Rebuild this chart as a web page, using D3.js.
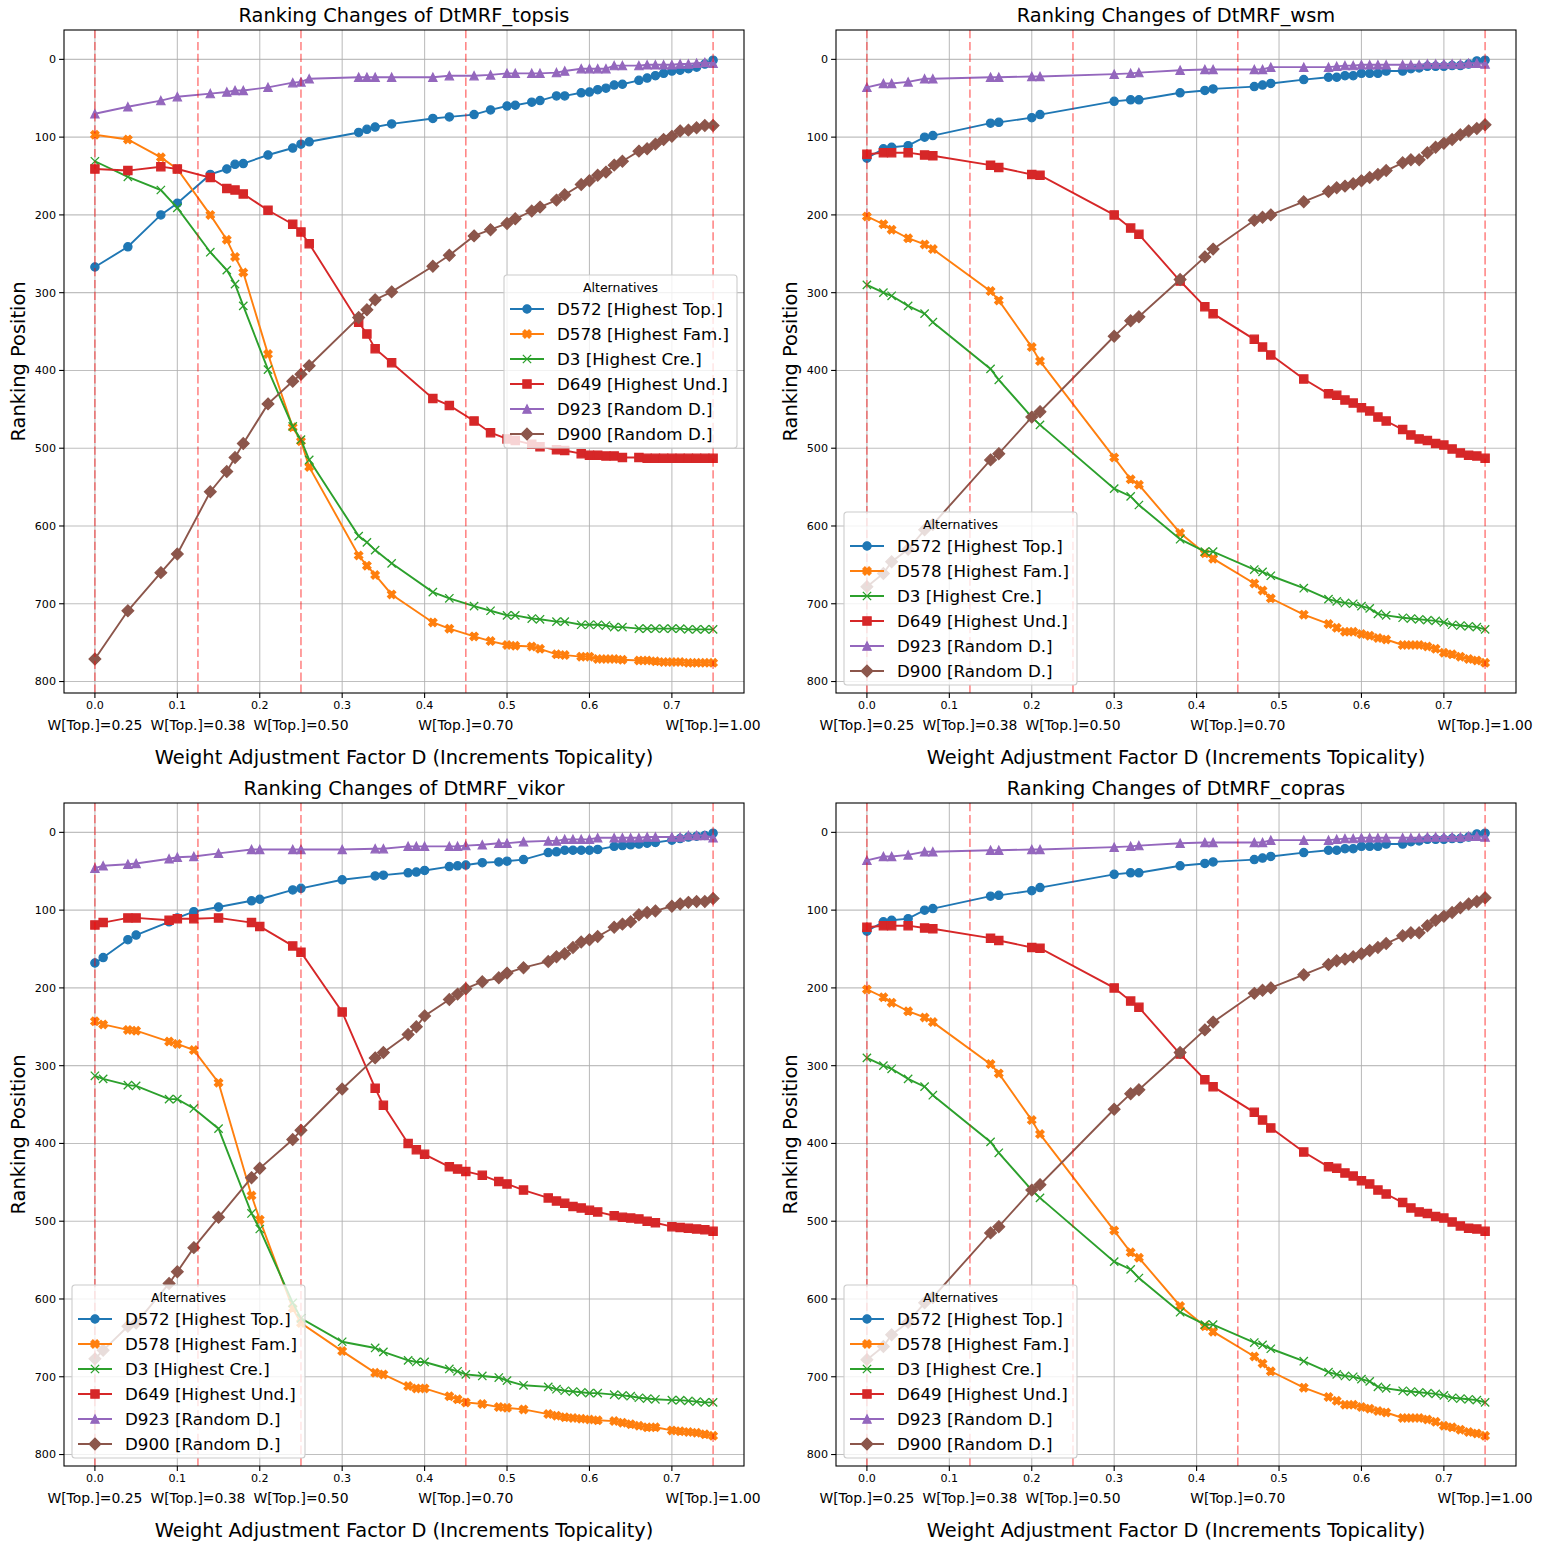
<!DOCTYPE html>
<html>
<head>
<meta charset="utf-8">
<script src="https://cdn.jsdelivr.net/npm/d3@7"></script>
<style>
  body { margin: 0; background: #fff; }
  svg { display: block; font-family: "DejaVu Sans", sans-serif; }
</style>
</head>
<body>
<div id="chart"></div>
<script>
// ---- data (ranking position per weight step) ----
var topsisX = [0, 0.04, 0.08, 0.10, 0.14, 0.16, 0.17, 0.18, 0.21, 0.24, 0.25, 0.26, 0.32, 0.33, 0.34, 0.36,
  0.41, 0.43, 0.46, 0.48, 0.50, 0.51, 0.53, 0.54, 0.56, 0.57, 0.59, 0.60, 0.61, 0.62, 0.63, 0.64,
  0.66, 0.67, 0.68, 0.69, 0.70, 0.71, 0.72, 0.73, 0.74, 0.75];
var topsisD572 = [267, 241, 200, 185, 148, 141, 135, 134, 123, 114, 109, 106, 94, 90, 87, 83,
  76, 74, 71, 65, 60, 59, 55, 53, 47, 47, 43, 42, 39, 37, 33, 32, 27, 24, 21, 18, 15, 14, 12, 10, 6, 1];
var topsisD578 = [97, 103, 126, 141, 200, 232, 254, 274, 379, 473, 491, 524, 638, 651, 663, 688,
  724, 732, 742, 748, 753, 754, 755, 758, 765, 766, 768, 768, 771, 771, 771, 772, 773, 773, 774, 775, 775, 775, 776, 776, 776, 776];
var topsisD3 = [131, 151, 168, 191, 248, 271, 289, 317, 399, 472, 489, 515, 613, 621, 631, 648,
  685, 693, 703, 709, 715, 715, 719, 720, 723, 723, 727, 727, 727, 728, 730, 730, 732, 732, 732, 732, 732, 732, 733, 733, 733, 733];
var topsisD649 = [141, 143, 138, 141, 152, 166, 168, 173, 194, 212, 222, 237, 338, 353, 372, 390,
  436, 445, 465, 480, 488, 490, 495, 498, 502, 503, 507, 509, 509, 510, 510, 512, 512, 513, 513, 513, 513, 513, 513, 513, 513, 513];
var topsisD923 = [70, 61, 53, 48, 44, 42, 40, 40, 36, 30, 29, 25, 23, 23, 23, 23,
  23, 21, 21, 20, 18, 18, 18, 18, 17, 15, 12, 12, 12, 12, 8, 8, 8, 7, 7, 7, 7, 6, 6, 5, 4, 5];
var topsisD900 = [771, 709, 660, 636, 556, 530, 512, 494, 443, 414, 405, 394, 332, 322, 309, 299,
  266, 252, 227, 219, 211, 205, 195, 190, 181, 174, 161, 156, 149, 145, 136, 131, 118, 115, 109, 103, 99, 92, 91, 88, 85, 85];

var wsmX = [0, 0.02, 0.03, 0.05, 0.07, 0.08, 0.15, 0.16, 0.20, 0.21, 0.30, 0.32, 0.33, 0.38, 0.41, 0.42,
  0.47, 0.48, 0.49, 0.53, 0.56, 0.57, 0.58, 0.59, 0.60, 0.61, 0.62, 0.63, 0.65, 0.66, 0.67, 0.68,
  0.69, 0.70, 0.71, 0.72, 0.73, 0.74, 0.75];
var wsmD572 = [127, 115, 113, 111, 100, 98, 82, 81, 75, 71, 54, 52, 52, 43, 40, 38,
  35, 33, 31, 26, 23, 23, 21, 21, 18, 18, 18, 15, 15, 12, 11, 9, 9, 9, 8, 8, 6, 2, 1];
var wsmD578 = [202, 212, 219, 230, 238, 244, 298, 310, 370, 388, 512, 540, 547, 609, 635, 642,
  674, 683, 693, 714, 726, 731, 736, 736, 739, 741, 744, 746, 753, 753, 753, 755, 758, 763, 765, 768, 771, 773, 776];
var wsmD3 = [290, 300, 304, 317, 327, 338, 398, 412, 460, 470, 552, 562, 573, 617, 633, 633,
  656, 659, 664, 680, 694, 697, 699, 700, 703, 706, 713, 715, 718, 719, 720, 721, 722, 724, 727, 728, 729, 730, 733];
var wsmD649 = [122, 120, 120, 120, 123, 124, 136, 139, 148, 149, 200, 217, 225, 285, 318, 327,
  360, 370, 380, 411, 430, 432, 438, 442, 448, 452, 460, 465, 476, 483, 488, 490, 494, 496, 501, 506, 509, 510, 513];
var wsmD923 = [36, 31, 31, 29, 25, 25, 23, 23, 22, 22, 19, 18, 17, 14, 13, 13,
  13, 13, 10, 10, 10, 9, 8, 8, 7, 7, 7, 7, 7, 7, 7, 6, 6, 6, 6, 6, 5, 5, 6];
var wsmD900 = [678, 661, 646, 630, 605, 598, 515, 507, 460, 453, 356, 336, 331, 283, 254, 244,
  207, 203, 200, 183, 170, 165, 163, 160, 156, 152, 148, 143, 133, 129, 129, 120, 113, 108, 103, 97, 92, 89, 84];

var vikorX = [0, 0.01, 0.04, 0.05, 0.09, 0.10, 0.12, 0.15, 0.19, 0.20, 0.24, 0.25, 0.30, 0.34, 0.35, 0.38,
  0.39, 0.40, 0.43, 0.44, 0.45, 0.47, 0.49, 0.50, 0.52, 0.55, 0.56, 0.57, 0.58, 0.59, 0.60, 0.61,
  0.63, 0.64, 0.65, 0.66, 0.67, 0.68, 0.70, 0.71, 0.72, 0.73, 0.74, 0.75];
var vikorD572 = [168, 161, 138, 132, 115, 110, 102, 96, 88, 86, 74, 72, 61, 56, 55, 52,
  51, 49, 44, 43, 42, 39, 38, 37, 35, 26, 25, 23, 23, 23, 23, 22, 18, 17, 16, 15, 14, 13, 10, 8, 6, 5, 4, 1];
var vikorD578 = [243, 247, 254, 255, 269, 272, 280, 322, 467, 498, 612, 631, 667, 695, 697, 712,
  715, 715, 725, 729, 733, 735, 739, 740, 742, 748, 750, 752, 753, 754, 755, 756, 757, 759, 761, 763, 765, 765, 769, 770, 771, 772, 774, 776];
var vikorD3 = [313, 317, 325, 326, 343, 343, 355, 381, 490, 510, 605, 625, 655, 663, 668, 679,
  681, 681, 690, 693, 697, 699, 701, 705, 711, 713, 716, 718, 719, 720, 721, 721, 723, 724, 725, 727, 728, 729, 730, 730, 731, 732, 733, 733];
var vikorD649 = [119, 116, 110, 110, 113, 111, 111, 110, 116, 121, 146, 154, 231, 329, 351, 400,
  408, 414, 430, 433, 436, 441, 449, 452, 460, 470, 474, 477, 481, 483, 486, 488, 493, 495, 496, 497, 500, 502, 507, 508, 509, 510, 511, 513];
var vikorD923 = [46, 43, 41, 40, 34, 32, 31, 27, 22, 22, 22, 22, 22, 21, 21, 18,
  18, 18, 18, 18, 17, 16, 14, 14, 12, 11, 11, 9, 9, 9, 9, 7, 7, 7, 7, 7, 6, 6, 6, 6, 4, 4, 4, 7];
var vikorD900 = [677, 666, 635, 631, 580, 565, 534, 495, 444, 432, 395, 383, 330, 290, 283, 260,
  250, 236, 215, 208, 201, 192, 187, 181, 174, 166, 160, 156, 148, 141, 138, 134, 122, 118, 115, 106, 103, 101, 95, 92, 90, 89, 89, 85];

// copras ranks read the same as wsm in the picture
var coprasX = wsmX;
var coprasD572 = wsmD572, coprasD578 = wsmD578, coprasD3 = wsmD3,
  coprasD649 = wsmD649, coprasD923 = wsmD923, coprasD900 = wsmD900;

var seriesNames = ["D572 [Highest Top.]", "D578 [Highest Fam.]", "D3 [Highest Cre.]",
  "D649 [Highest Und.]", "D923 [Random D.]", "D900 [Random D.]"];
var seriesColors = ["#1f77b4", "#ff7f0e", "#2ca02c", "#d62728", "#9467bd", "#8c564b"];
var seriesMarkers = ["o", "X", "x", "s", "^", "D"];

var xTicks = [0, 0.1, 0.2, 0.3, 0.4, 0.5, 0.6, 0.7];
var yTicks = [0, 100, 200, 300, 400, 500, 600, 700, 800];
var weightSteps = [0, 0.125, 0.25, 0.45, 0.75];
var weightLabels = ["W[Top.]=0.25", "W[Top.]=0.38", "W[Top.]=0.50", "W[Top.]=0.70", "W[Top.]=1.00"];

var panels = [
  { title: "Ranking Changes of DtMRF_topsis", x: topsisX,
    ys: [topsisD572, topsisD578, topsisD3, topsisD649, topsisD923, topsisD900],
    left: 64, top: 30, legend: "center right" },
  { title: "Ranking Changes of DtMRF_wsm", x: wsmX,
    ys: [wsmD572, wsmD578, wsmD3, wsmD649, wsmD923, wsmD900],
    left: 836, top: 30, legend: "lower left" },
  { title: "Ranking Changes of DtMRF_vikor", x: vikorX,
    ys: [vikorD572, vikorD578, vikorD3, vikorD649, vikorD923, vikorD900],
    left: 64, top: 803, legend: "lower left" },
  { title: "Ranking Changes of DtMRF_copras", x: coprasX,
    ys: [coprasD572, coprasD578, coprasD3, coprasD649, coprasD923, coprasD900],
    left: 836, top: 803, legend: "lower left" }
];

var W = 1550, H = 1544;
var axW = 680, axH = 663;
var msize = 8.3; // marker size in px

var svg = d3.select("#chart").append("svg")
  .attr("width", W)
  .attr("height", H);

function markerPath(m, s) {
  var h = s / 2;
  if (m === "o") return d3.symbol(d3.symbolCircle, Math.PI * h * h)();
  if (m === "s") return "M" + (-h) + "," + (-h) + "h" + s + "v" + s + "h" + (-s) + "Z";
  if (m === "^") return "M0," + (-h) + "L" + h + "," + h + "L" + (-h) + "," + h + "Z";
  if (m === "D") {
    var r = s * Math.SQRT1_2;
    return "M0," + (-r) + "L" + r + ",0L0," + r + "L" + (-r) + ",0Z";
  }
  if (m === "X") {
    var pts = [[-1, -2], [0, -1], [1, -2], [2, -1], [1, 0], [2, 1],
      [1, 2], [0, 1], [-1, 2], [-2, 1], [-1, 0], [-2, -1]];
    return "M" + pts.map(function(p) { return (p[0] * s / 4) + "," + (p[1] * s / 4); }).join("L") + "Z";
  }
  // thin x
  return "M" + (-h) + "," + (-h) + "L" + h + "," + h + "M" + (-h) + "," + h + "L" + h + "," + (-h);
}

function drawMarker(sel, m, color) {
  sel.append("path")
    .attr("d", markerPath(m, msize))
    .attr("fill", m === "x" ? "none" : color)
    .attr("stroke", color)
    .attr("stroke-width", m === "x" ? 1.3 : 1.2)
    .attr("stroke-linejoin", "miter");
}

panels.forEach(function(p) {
  var g = svg.append("g").attr("transform", "translate(" + p.left + "," + p.top + ")");

  var xr = d3.extent(p.x);
  var xpad = (xr[1] - xr[0]) * 0.05;
  var x = d3.scaleLinear().domain([xr[0] - xpad, xr[1] + xpad]).range([0, axW]);

  var allY = d3.merge(p.ys);
  var yr = d3.extent(allY);
  var ypad = (yr[1] - yr[0]) * 0.05;
  var y = d3.scaleLinear().domain([yr[0] - ypad, yr[1] + ypad]).range([0, axH]); // inverted: rank 1 on top

  // grid
  g.append("g").selectAll("line.vg").data(xTicks).enter().append("line")
    .attr("x1", function(d) { return x(d); }).attr("x2", function(d) { return x(d); })
    .attr("y1", 0).attr("y2", axH)
    .attr("stroke", "#b0b0b0").attr("stroke-width", 1.1).attr("opacity", 0.8);
  g.append("g").selectAll("line.hg").data(yTicks).enter().append("line")
    .attr("y1", function(d) { return y(d); }).attr("y2", function(d) { return y(d); })
    .attr("x1", 0).attr("x2", axW)
    .attr("stroke", "#b0b0b0").attr("stroke-width", 1.1).attr("opacity", 0.8);

  // series
  var line = d3.line()
    .x(function(d) { return x(d[0]); })
    .y(function(d) { return y(d[1]); });

  p.ys.forEach(function(vals, i) {
    var pts = d3.zip(p.x, vals);
    var sg = g.append("g");
    sg.append("path")
      .datum(pts)
      .attr("d", line)
      .attr("fill", "none")
      .attr("stroke", seriesColors[i])
      .attr("stroke-width", 1.9);
    sg.selectAll("g.m").data(pts).enter().append("g")
      .attr("transform", function(d) { return "translate(" + x(d[0]) + "," + y(d[1]) + ")"; })
      .each(function() { drawMarker(d3.select(this), seriesMarkers[i], seriesColors[i]); });
  });

  // weight step markers
  g.append("g").selectAll("line").data(weightSteps).enter().append("line")
    .attr("x1", function(d) { return x(d); }).attr("x2", function(d) { return x(d); })
    .attr("y1", 0).attr("y2", axH)
    .attr("stroke", "red").attr("stroke-opacity", 0.5)
    .attr("stroke-width", 1.5)
    .attr("stroke-dasharray", "8.3,3.6");

  g.append("g").selectAll("text").data(weightSteps).enter().append("text")
    .attr("x", function(d) { return x(d); })
    .attr("y", axH + 37)
    .attr("text-anchor", "middle")
    .attr("font-size", "13.9px")
    .attr("fill", "#000")
    .text(function(d, i) { return weightLabels[i]; });

  // frame
  g.append("rect")
    .attr("width", axW).attr("height", axH)
    .attr("fill", "none").attr("stroke", "#000").attr("stroke-width", 1.1);

  // ticks
  var xt = g.append("g").selectAll("g").data(xTicks).enter().append("g")
    .attr("transform", function(d) { return "translate(" + x(d) + "," + axH + ")"; });
  xt.append("line").attr("y2", 4.9).attr("stroke", "#000").attr("stroke-width", 1.1);
  xt.append("text").attr("y", 16).attr("text-anchor", "middle")
    .attr("font-size", "11.1px")
    .text(function(d) { return d3.format(".1f")(d); });

  var yt = g.append("g").selectAll("g").data(yTicks).enter().append("g")
    .attr("transform", function(d) { return "translate(0," + y(d) + ")"; });
  yt.append("line").attr("x2", -4.9).attr("stroke", "#000").attr("stroke-width", 1.1);
  yt.append("text").attr("x", -8).attr("dy", "0.35em").attr("text-anchor", "end")
    .attr("font-size", "11.1px")
    .text(function(d) { return d; });

  // titles and axis labels
  g.append("text")
    .attr("x", axW / 2).attr("y", -8)
    .attr("text-anchor", "middle")
    .attr("font-size", "19.4px")
    .text(p.title);

  g.append("text")
    .attr("x", axW / 2).attr("y", axH + 71)
    .attr("text-anchor", "middle")
    .attr("font-size", "19.4px")
    .text("Weight Adjustment Factor D (Increments Topicality)");

  g.append("text")
    .attr("transform", "translate(" + (-39) + "," + (axH / 2) + ") rotate(-90)")
    .attr("text-anchor", "middle")
    .attr("font-size", "19.4px")
    .text("Ranking Position");

  // legend
  var lw = 233, lh = 173;
  var lx, ly;
  if (p.legend === "center right") {
    lx = axW - 7 - lw;
    ly = axH / 2 - lh / 2;
  } else {
    lx = 8;
    ly = axH - 8 - lh;
  }
  var lg = g.append("g").attr("transform", "translate(" + lx + "," + ly + ")");
  lg.append("rect")
    .attr("width", lw).attr("height", lh)
    .attr("rx", 3)
    .attr("fill", "#fff").attr("fill-opacity", 0.8)
    .attr("stroke", "#cccccc").attr("stroke-width", 1.1);
  lg.append("text")
    .attr("x", lw / 2).attr("y", 16.5)
    .attr("text-anchor", "middle")
    .attr("font-size", "12.5px")
    .text("Alternatives");
  seriesNames.forEach(function(name, i) {
    var cy = 34 + i * 25;
    var row = lg.append("g").attr("transform", "translate(0," + cy + ")");
    row.append("line")
      .attr("x1", 6).attr("x2", 40)
      .attr("stroke", seriesColors[i]).attr("stroke-width", 1.9);
    var mk = row.append("g").attr("transform", "translate(23,0)");
    drawMarker(mk, seriesMarkers[i], seriesColors[i]);
    row.append("text")
      .attr("x", 53).attr("dy", "0.36em")
      .attr("font-size", "16.7px")
      .text(name);
  });
});
</script>
</body>
</html>
